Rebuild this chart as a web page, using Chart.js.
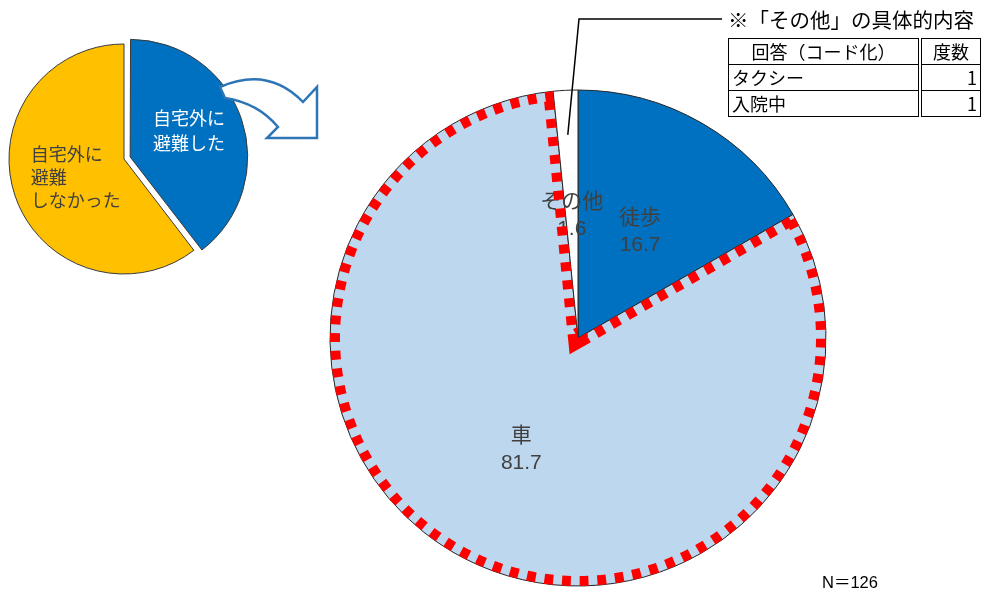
<!DOCTYPE html>
<html lang="ja">
<head>
<meta charset="UTF-8">
<title>避難手段</title>
<script src="https://cdn.jsdelivr.net/npm/chart.js"></script>
<style>
  body { margin: 0; background: #fff; font-family: "Liberation Sans", "Noto Sans CJK JP", sans-serif; }
  #wrap { position: relative; width: 985px; height: 595px; overflow: hidden; }
  #mainChart { position: absolute; left: 0; top: 0; }
  #subChart { position: absolute; left: 0; top: 29px; }
  #arrow { position: absolute; left: 0; top: 0; }
  #noteTitle { position: absolute; left: 728px; top: 4px; font-size: 20.5px; font-family: "Noto Sans CJK JP", sans-serif; color: #000; white-space: nowrap; }
  #noteTable { position: absolute; left: 728px; top: 38px; width: 253px; border-collapse: collapse; font-family: "Noto Sans CJK JP", sans-serif; font-size: 18px; color: #000; }
  #noteTable td, #noteTable th { border: 1px solid #000; padding: 0 3px; height: 25px; line-height: 23px; font-weight: normal; }
  #noteTable th { text-align: center; }
  #noteTable .num { text-align: right; border-left: 4px double #000; width: 52px; }
  #nLabel { position: absolute; left: 822px; top: 569px; font-size: 16.5px; color: #000; }
</style>
</head>
<body>
<div id="wrap">
  <canvas id="mainChart" width="985" height="595"></canvas>
  <canvas id="subChart" width="250" height="260"></canvas>
  <svg id="arrow" width="340" height="160">
    <path d="M 220 87 Q 268 66 303 102 L 317 87 L 317 138 L 267 138 L 278 127 Q 258 103 225 98 Z"
          fill="#fff" stroke="#2E75B6" stroke-width="2.5" stroke-linejoin="miter"/>
  </svg>
  <div id="noteTitle">※「その他」の具体的内容</div>
  <table id="noteTable"></table>
  <div id="nLabel"></div>
</div>
<script>
// 避難手段（自宅外に避難した人）
const mainLabels = ['徒歩', '車', 'その他'];
const mainValues = [16.7, 81.7, 1.6];
const mainColors = ['#0070C0', '#BDD7EE', '#FFFFFF'];

// 自宅外に避難したかどうか
const subLabels = ['自宅外に避難した', '自宅外に避難しなかった'];
const subLines = [['自宅外に', '避難した'], ['自宅外に', '避難', 'しなかった']];
const subValues = [39.6, 60.4];
const subColors = ['#0070C0', '#FFC000'];

// 「その他」の内訳
const noteHeader = ['回答（コード化）', '度数'];
const noteAnswers = ['タクシー', '入院中'];
const noteCounts = [1, 1];
const sampleSize = 126;

// 表とN
const tbl = document.getElementById('noteTable');
let html = '<tr><th>' + noteHeader[0] + '</th><th class="num" style="text-align:center">' + noteHeader[1] + '</th></tr>';
noteAnswers.forEach((a, i) => {
  html += '<tr><td>' + a + '</td><td class="num">' + noteCounts[i] + '</td></tr>';
});
tbl.innerHTML = html;
document.getElementById('nLabel').textContent = 'N＝' + sampleSize;

const jpFont = '"Liberation Sans", "Noto Sans CJK JP", sans-serif';

// 大きい円グラフ用：ラベル、赤い点線、引き出し線
const mainDecor = {
  id: 'mainDecor',
  afterDatasetsDraw(chart) {
    const ctx = chart.ctx;
    const arcs = chart.getDatasetMeta(0).data;

    // ラベル
    ctx.save();
    ctx.font = '21px ' + jpFont;
    ctx.fillStyle = '#404040';
    ctx.textAlign = 'center';
    ctx.textBaseline = 'middle';
    arcs.forEach((a, i) => {
      const p = a.tooltipPosition();
      ctx.fillText(mainLabels[i], p.x, p.y - 12);
      ctx.fillText(mainValues[i].toFixed(1), p.x, p.y + 15);
    });
    ctx.restore();

    // 車 の扇形を赤い点線で囲む
    const car = arcs[1];
    const slice = () => {
      ctx.beginPath();
      ctx.moveTo(car.x, car.y);
      ctx.arc(car.x, car.y, car.outerRadius, car.startAngle, car.endAngle);
      ctx.closePath();
    };
    ctx.save();
    slice();
    ctx.clip();
    slice();
    ctx.setLineDash([9, 9]);
    ctx.lineWidth = 20;
    ctx.strokeStyle = '#FF0000';
    ctx.stroke();
    ctx.restore();

    // 引き出し線（その他 → 注記）
    const other = arcs[2];
    const mid = (other.startAngle + other.endAngle) / 2;
    const px = other.x + Math.cos(mid) * other.outerRadius * 0.82;
    const py = other.y + Math.sin(mid) * other.outerRadius * 0.82;
    ctx.save();
    ctx.strokeStyle = '#000';
    ctx.lineWidth = 1.5;
    ctx.beginPath();
    ctx.moveTo(px, py);
    ctx.lineTo(579, 19);
    ctx.lineTo(722, 19);
    ctx.stroke();
    ctx.restore();
  }
};

new Chart(document.getElementById('mainChart'), {
  type: 'pie',
  data: {
    labels: mainLabels,
    datasets: [{
      data: mainValues,
      backgroundColor: mainColors,
      borderColor: '#262626',
      borderWidth: 1
    }]
  },
  options: {
    responsive: false,
    animation: false,
    radius: 248,
    layout: { padding: { left: 171, top: 81, right: 0, bottom: 0 } },
    plugins: { legend: { display: false }, tooltip: { enabled: false } }
  },
  plugins: [mainDecor]
});

// 小さい円グラフ用ラベル
const subDecor = {
  id: 'subDecor',
  afterDatasetsDraw(chart) {
    const ctx = chart.ctx;
    const arcs = chart.getDatasetMeta(0).data;
    const factors = [0.56, 0.45];
    const colors = ['#FFFFFF', '#404040'];
    ctx.save();
    ctx.font = '18px "Noto Sans CJK JP", sans-serif';
    ctx.textBaseline = 'middle';
    arcs.forEach((a, i) => {
      const mid = (a.startAngle + a.endAngle) / 2 - (i === 0 ? 0.08 : 0.04);
      // Chart.js v4 は offset の 1/4 だけ扇形をずらして描く
      const r = a.outerRadius * factors[i] + (a.options.offset || 0) / 4;
      const cx = a.x + Math.cos(mid) * r;
      const cy = a.y + Math.sin(mid) * r;
      const lines = subLines[i];
      const lh = i === 0 ? 25 : 23;
      const w = Math.max(...lines.map(t => ctx.measureText(t).width));
      ctx.fillStyle = colors[i];
      ctx.textAlign = 'left';
      lines.forEach((t, k) => {
        ctx.fillText(t, cx - w / 2, cy + (k - (lines.length - 1) / 2) * lh);
      });
    });
    ctx.restore();
  }
};

new Chart(document.getElementById('subChart'), {
  type: 'pie',
  data: {
    labels: subLabels,
    datasets: [{
      data: subValues,
      backgroundColor: subColors,
      borderColor: '#3A3A3A',
      borderWidth: 1,
      offset: [26, 0]
    }]
  },
  options: {
    responsive: false,
    animation: false,
    radius: 115,
    layout: { padding: { left: 0, top: 0, right: 2, bottom: 0 } },
    plugins: { legend: { display: false }, tooltip: { enabled: false } }
  },
  plugins: [subDecor]
});
</script>
</body>
</html>
